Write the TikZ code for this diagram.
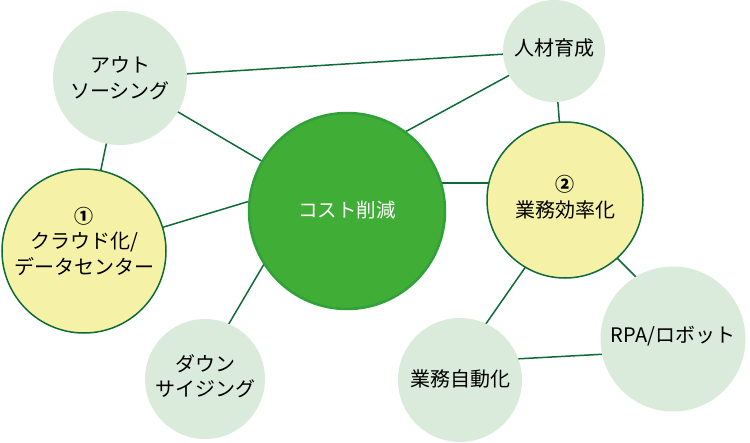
\documentclass[tikz,border=0pt]{standalone}
\usepackage{fontspec}
\setmainfont{Noto Sans CJK JP}
\usetikzlibrary{backgrounds,calc}
\definecolor{lightg}{HTML}{DAEBDB}
\definecolor{yel}{HTML}{F5F2A8}
\definecolor{maing}{HTML}{40AE36}
\definecolor{mainb}{HTML}{2FA03A}
\definecolor{edgec}{HTML}{0E6B38}
\begin{document}
\begin{tikzpicture}[x=1pt,y=-1pt,
  bub/.style={circle,fill=lightg,inner sep=0pt,minimum size=#1},
  ybub/.style={circle,fill=yel,draw=edgec,line width=1.5pt,inner sep=0pt,minimum size=#1},
  mbub/.style={circle,fill=maing,draw=mainb,line width=2.5pt,inner sep=0pt,minimum size=#1},
  lbl/.style={align=center,font=\fontsize{20}{25.5}\selectfont,inner sep=0pt},
  conn/.style={draw=edgec,line width=1.5pt}]
\useasboundingbox (0,0) rectangle (750,442);
% circles
\node[bub=134pt] (out) at (120,78) {};
\node[bub=102pt] (jin) at (554,51) {};
\node[ybub=164pt] (c1) at (84,251) {};
\node[mbub=196pt] (cost) at (347,211) {};
\node[ybub=156pt] (c2) at (565,200) {};
\node[bub=120pt] (down) at (205,379) {};
\node[bub=124pt] (auto) at (460,380) {};
\node[bub=145pt] (rpa) at (673,339) {};
% connectors (behind circles)
\begin{scope}[on background layer]
\path[conn] (out.center) -- (jin.center);
\path[conn] (out.center) -- (cost.center);
\path[conn] (out.center) -- (c1.center);
\path[conn] (c1.center) -- ($(cost.center)+(-97,-10)$);
\path[conn] ($(cost.center)+(58,-79)$) -- (jin.center);
\path[conn] ($(cost.center)+(90,-28)$) -- ($(c2.center)+(-70,-17)$);
\path[conn] (jin.center) -- ($(c2.center)+(-5,-70)$);
\path[conn] ($(cost.center)+(-80,48)$) -- ($(down.center)+(22,-52)$);
\path[conn] ($(c2.center)+(-36,62)$) -- ($(auto.center)+(23,-52)$);
\path[conn] ($(c2.center)+(46,52)$) -- ($(rpa.center)+(-31,-56)$);
\path[conn] ($(auto.center)+(55,-21)$) -- ($(rpa.center)+(-66,15)$);
\end{scope}
% labels
\node[lbl] (tout) at (120,78) {アウト\\ソーシング};
\node[lbl] (tjin) at (554,48) {人材育成};
\node[lbl] (tc1) at (84,241) {{\fontsize{19}{19}\selectfont\bfseries ①}\\クラウド化/\\データセンター};
\node[lbl,text=white,font=\fontsize{19.5}{25}\selectfont] (tcost) at (347,210) {コスト削減};
\node[lbl] (tc2) at (565,197) {{\fontsize{19}{19}\selectfont\bfseries ②}\\業務効率化};
\node[lbl] (tdown) at (205,376) {ダウン\\サイジング};
\node[lbl] (tauto) at (460,379) {業務自動化};
\node[lbl] (trpa) at (673,336) {RPA/ロボット};
\end{tikzpicture}
\end{document}
